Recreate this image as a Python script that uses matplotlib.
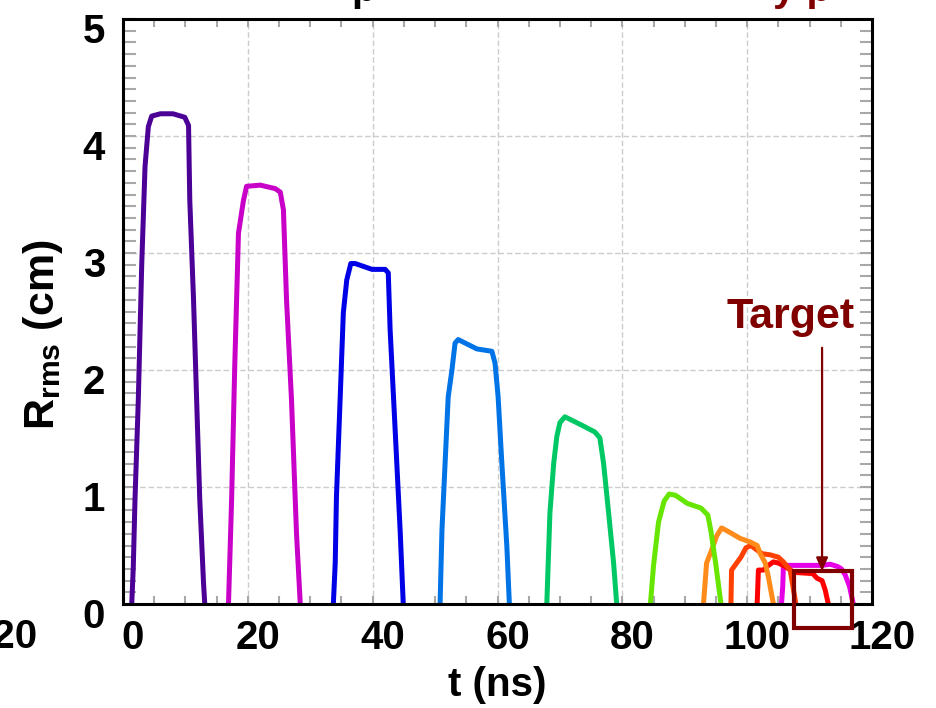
import numpy as np
import matplotlib
matplotlib.use("Agg")
matplotlib.rcParams.update({
    "font.family": ["Liberation Sans", "DejaVu Sans"],
    "font.weight": "bold",
    "axes.labelweight": "bold",
    "mathtext.fontset": "custom",
    "mathtext.rm": "Liberation Sans:bold",
    "mathtext.it": "Liberation Sans:bold",
    "mathtext.bf": "Liberation Sans:bold",
})
import matplotlib.pyplot as plt
from matplotlib.patches import Rectangle
from matplotlib.transforms import ScaledTranslation

# R_rms (cm) vs t (ns), one pulse per pass
pulse_t = [
    [1.4, 1.65, 1.92, 2.45, 3.0, 3.53, 4.06, 4.6, 6.0, 8.0, 9.9, 10.5, 10.7, 11.3, 11.8, 12.3, 12.9, 13.1],
    [16.9, 17.4, 17.9, 18.5, 19.3, 19.8, 22.0, 24.4, 25.2, 25.7, 26.2, 27.0, 27.8, 28.4],
    [33.7, 34.0, 34.2, 34.8, 35.3, 35.85, 36.5, 37.2, 39.9, 42.0, 42.5, 42.8, 43.6, 44.4, 44.9],
    [50.8, 51.1, 51.6, 52.1, 52.7, 53.2, 53.7, 56.7, 59.1, 59.6, 60.1, 60.7, 61.5, 61.9],
    [67.9, 68.4, 69.0, 69.5, 70.0, 70.8, 73.8, 75.6, 76.4, 77.0, 77.8, 78.6, 79.1],
    [84.5, 85.0, 85.8, 86.7, 87.5, 88.5, 90.4, 92.6, 93.7, 94.2, 95.0, 95.8],
    [93.0, 93.5, 94.3, 95.1, 95.9, 96.96, 98.9, 100.5, 101.6, 102.1, 102.9, 103.4, 104.2],
    [97.4, 97.5, 99.0, 99.8, 100.6, 101.6, 102.4, 103.7, 105.0, 105.8, 106.9, 107.8],
    [101.6, 101.8, 102.6, 103.4, 104.2, 105.0, 106.1, 107.5, 110.5, 111.2, 112.0, 112.5, 113.0],
    [105.5, 105.7, 105.8, 106.4, 108.0, 110.0, 112.0, 113.3, 114.5, 115.1, 115.7, 116.4, 117.0],
]
pulse_r = [
    [0.0, 0.32, 0.89, 1.74, 2.9, 3.74, 4.08, 4.17, 4.19, 4.19, 4.16, 4.09, 3.45, 2.6, 1.74, 0.89, 0.18, 0.0],
    [0.0, 0.89, 2.03, 3.17, 3.45, 3.57, 3.58, 3.55, 3.52, 3.37, 2.6, 1.74, 0.6, 0.0],
    [0.0, 0.35, 0.92, 1.77, 2.49, 2.77, 2.91, 2.91, 2.86, 2.86, 2.83, 2.34, 1.49, 0.63, 0.0],
    [0.0, 0.63, 1.2, 1.77, 2.0, 2.23, 2.26, 2.18, 2.16, 2.06, 1.77, 1.2, 0.49, 0.0],
    [0.0, 0.78, 1.2, 1.43, 1.55, 1.6, 1.52, 1.47, 1.42, 1.2, 0.78, 0.35, 0.0],
    [0.0, 0.33, 0.7, 0.88, 0.94, 0.93, 0.86, 0.82, 0.76, 0.62, 0.33, 0.0],
    [0.0, 0.35, 0.46, 0.58, 0.65, 0.62, 0.56, 0.53, 0.50, 0.43, 0.35, 0.23, 0.0],
    [0.0, 0.29, 0.40, 0.48, 0.50, 0.46, 0.43, 0.42, 0.40, 0.36, 0.29, 0.0],
    [0.0, 0.29, 0.29, 0.33, 0.36, 0.35, 0.32, 0.27, 0.26, 0.22, 0.20, 0.12, 0.0],
    [0.0, 0.15, 0.32, 0.33, 0.33, 0.33, 0.33, 0.34, 0.32, 0.30, 0.25, 0.15, 0.0],
]
pulse_colors = ["#4b0096", "#c800c8", "#0000e6", "#0073e6", "#00c864",
                "#66e600", "#ff8c1a", "#ff4000", "#ff0000", "#e600e6"]

x_ticks = [0, 20, 40, 60, 80, 100, 120]
y_ticks = [0, 1, 2, 3, 4, 5]

# target window marker (ns, cm)
target_t = (107.5, 116.8)
target_r = (-0.205, 0.28)
target_arrow_t = 112.0
target_arrow_top = 2.19
target_label_pos = (107.0, 2.45)

DARKRED = "#800000"
GRAY = "#a8a8a8"

fig = plt.figure(figsize=(9.36, 7.08), dpi=100)
ax = fig.add_axes([123 / 936, 104 / 708, 749 / 936, 585 / 708])

# later pulses underneath earlier ones
for i in reversed(range(len(pulse_t))):
    ax.plot(pulse_t[i], pulse_r[i], color=pulse_colors[i], lw=3.6,
            solid_joinstyle="round", zorder=3 + (len(pulse_t) - i) * 0.1)

ax.set_xlim(0, 120)
ax.set_ylim(0, 5)
ax.set_xticks(x_ticks)
ax.set_yticks(y_ticks)
ax.set_xticks(np.arange(0, 121, 5), minor=True)
ax.set_yticks(np.arange(0, 5.01, 0.1), minor=True)
ax.tick_params(which="both", direction="in", top=True, right=True,
               color=GRAY, width=1.5, labelsize=29)
ax.tick_params(axis="x", which="both", length=6, pad=11)
ax.tick_params(axis="y", which="both", length=9, pad=13)
ax.grid(True, which="major", color="#cccccc", lw=1.0, ls=(0, (4, 2)))
for s in ax.spines.values():
    s.set_linewidth(2.2)
    s.set_color("black")
    s.set_zorder(6)

# tick labels sit slightly off their ticks in the original
for lab in ax.get_xticklabels():
    lab.set_transform(lab.get_transform() + ScaledTranslation(0.10, 0, fig.dpi_scale_trans))
for lab in ax.get_yticklabels():
    lab.set_transform(lab.get_transform() + ScaledTranslation(0, -0.09, fig.dpi_scale_trans))

ax.set_xlabel("t (ns)", fontsize=29, labelpad=6)
ax.set_ylabel(r"R$_{rms}$ (cm)", fontsize=31)
ax.yaxis.set_label_coords(-0.078, 0.46)

# target window
ax.add_patch(Rectangle((target_t[0], target_r[0]), target_t[1] - target_t[0],
                       target_r[1] - target_r[0], fill=False, ec=DARKRED, lw=3,
                       clip_on=False, zorder=7))
ax.annotate("", xy=(target_arrow_t, target_r[1]), xytext=(target_arrow_t, target_arrow_top),
            arrowprops=dict(arrowstyle="-|>,head_length=0.8,head_width=0.35",
                            color=DARKRED, lw=1.6, shrinkA=0, shrinkB=0), zorder=8)
ax.text(*target_label_pos, "Target", color=DARKRED, fontsize=31, ha="center", va="center")

# pieces cut off at the figure edges, as in the original
fig.text(0.388, 1 - 1 / 708, "p", color="black", fontsize=29, ha="center", va="baseline")
fig.text(0.857, 1 - 1 / 708, "y p", color=DARKRED, fontsize=29, ha="center", va="baseline")
fig.text(38 / 936, (708 - 637) / 708, "120", fontsize=29, ha="right", va="center")

fig.savefig("out.png", dpi=100)
